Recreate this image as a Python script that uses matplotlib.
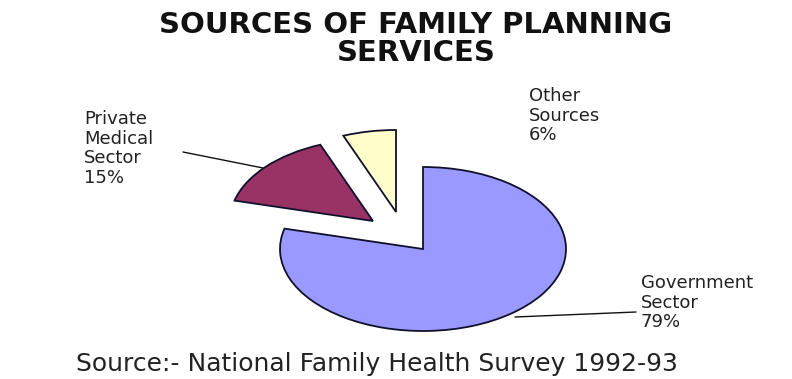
import matplotlib
matplotlib.use("Agg")
import matplotlib.pyplot as plt

# ---- data ----
categories = ["Government\nSector", "Private\nMedical\nSector", "Other\nSources"]
values = [79, 15, 6]
colors = ["#9999FF", "#993366", "#FFFFCC"]
title = "SOURCES OF FAMILY PLANNING\nSERVICES"
source = "Source:- National Family Health Survey 1992-93"

W, H = 792, 379
fig = plt.figure(figsize=(W / 100, H / 100), dpi=100)
fig.patch.set_facecolor("white")
ax = fig.add_axes([0, 0, 1, 1])

# pie geometry in pixels (elliptical pie)
cx, cy, rx, ry = 423, 249, 143, 82


def px(x, y):
    return ((x - cx) / rx, (cy - y) / ry)


wedges, _ = ax.pie(values, colors=colors, startangle=90, counterclock=False,
                   radius=1.0, center=(0, 0),
                   wedgeprops=dict(edgecolor="#10102a", linewidth=1.3))
# exploded offsets (in pixel units)
offsets = [(0, 0), (-50, -28), (-27, -37)]
for w, (dx, dy) in zip(wedges, offsets):
    w.set_center((dx / rx, -dy / ry))

ax.set_aspect("auto")
x0, y0 = px(0, H)
x1, y1 = px(W, 0)
ax.set_xlim(x0, x1)
ax.set_ylim(y0, y1)
ax.axis("off")

lab_font = dict(fontsize=13, family="DejaVu Sans", color="#222222",
                linespacing=1.12)

# labels
gx, gy = px(641, 274)
ax.text(gx, gy, f"{categories[0]}\n{values[0]}%", ha="left", va="top", **lab_font)
ax.annotate("", xy=px(515, 317), xytext=px(636, 312),
            arrowprops=dict(arrowstyle="-", color="#111111", lw=1.0,
                            shrinkA=0, shrinkB=0))

prx, pry = px(84, 110)
ax.text(prx, pry, f"{categories[1]}\n{values[1]}%", ha="left", va="top", **lab_font)
ax.annotate("", xy=px(263, 168), xytext=px(183, 152),
            arrowprops=dict(arrowstyle="-", color="#111111", lw=1.0,
                            shrinkA=0, shrinkB=0))

ox, oy = px(529, 87)
ax.text(ox, oy, f"{categories[2]}\n{values[2]}%", ha="left", va="top", **lab_font)

# title
tx, ty = px(416, 39)
ax.text(tx, ty, title, ha="center", va="center", fontsize=21,
        fontweight="bold", family="DejaVu Sans", color="#111111",
        linespacing=1.0)

# source
sx, sy = px(377, 364)
ax.text(sx, sy, source, ha="center", va="center", fontsize=18,
        family="DejaVu Sans", color="#222222")

fig.savefig("out.png", dpi=100, facecolor="white")
